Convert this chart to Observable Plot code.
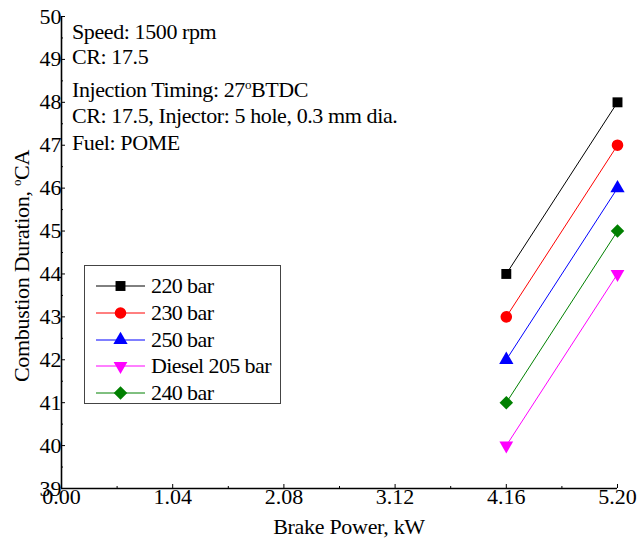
<!DOCTYPE html>
<html>
<head>
<meta charset="utf-8">
<script src="https://cdn.jsdelivr.net/npm/d3@7"></script>
<script src="https://cdn.jsdelivr.net/npm/@observablehq/plot@0.6"></script>
<style>
  body { margin: 0; background: #fff; }
  #wrap { position: relative; width: 638px; height: 539px; font-family: "Liberation Serif", "Times New Roman", serif; color: #000; }
  #wrap svg.plot { position: absolute; left: 0; top: 0; }
  .note { position: absolute; left: 72px; font-size: 22px; line-height: 22px; white-space: nowrap; letter-spacing: -0.4px; }
  sup { font-size: 13px; vertical-align: 0; position: relative; top: -8px; }
  #legend { position: absolute; left: 84px; top: 265px; width: 195px; height: 137px; border: 1px solid #444; background: #fff; }
  .lg { position: absolute; left: 0; height: 22px; font-size: 22px; line-height: 22px; white-space: nowrap; letter-spacing: -0.6px; }
  .lg svg { position: absolute; left: 11px; top: 0; }
  .lg span { position: absolute; left: 66px; top: 0; }
  #ylab { position: absolute; left: 23px; top: 266px; transform: translate(-50%, -50%) rotate(-90deg); font-size: 22px; line-height: 22px; white-space: nowrap; letter-spacing: -0.3px; }
  #xlab { position: absolute; left: 349px; top: 516px; transform: translateX(-50%); font-size: 22px; line-height: 22px; white-space: nowrap; letter-spacing: -0.3px; }
</style>
</head>
<body>
<div id="wrap"></div>
<script>
// ---- data ----
const xValues = [4.16, 5.20];
const seriesNames = ["220 bar", "230 bar", "250 bar", "Diesel 205 bar", "240 bar"];
const s220 = [44, 48];
const s230 = [43, 47];
const s250 = [42, 46];
const sDiesel205 = [40, 44];
const s240 = [41, 45];
const xTicks = [0.00, 1.04, 2.08, 3.12, 4.16, 5.20];
const yTicks = [39, 40, 41, 42, 43, 44, 45, 46, 47, 48, 49, 50];
const notes = ["Speed: 1500 rpm", "CR: 17.5", "Injection Timing: 27<sup>o</sup>BTDC", "CR: 17.5, Injector: 5 hole, 0.3 mm dia.", "Fuel: POME"];
const yTitle = "Combustion Duration, <sup>o</sup>CA";
const xTitle = "Brake Power, kW";

// ---- styles ----
const colors = ["#000000", "#ff0000", "#0000ff", "#ff00ff", "#008000"];
const symbols = ["square", "circle", "triangle", "triangle", "square"];
const rotations = [0, 0, 0, 180, 45];
const radii = [5.6, 5.8, 5.3, 5.1, 5.4];
const noteTops = [21, 46, 79, 105, 132];

const allSeries = [s220, s230, s250, sDiesel205, s240];
const data = [];
allSeries.forEach((vals, i) => vals.forEach((v, j) => data.push({series: seriesNames[i], idx: i, x: xValues[j], y: v})));

const xMinor = xTicks.slice(0, -1).map((t, i) => (t + xTicks[i + 1]) / 2);
const yMinor = yTicks.slice(0, -1).map(t => t + 0.5);

const plot = Plot.plot({
  width: 638,
  height: 539,
  marginLeft: 61,
  marginRight: 21,
  marginTop: 16,
  marginBottom: 51,
  style: {fontFamily: "'Liberation Serif', 'Times New Roman', serif", fontSize: "22px", background: "#fff", overflow: "visible"},
  x: {domain: [0, 5.2], label: null},
  y: {domain: [39, 50], label: null},
  r: {type: "identity"},
  marks: [
    Plot.axisY(yTicks, {tickSize: 0, tickPadding: 0, tickFormat: d => String(d), fontSize: 22, letterSpacing: "-1.5px"}),
    Plot.axisY(yTicks, {tickSize: 4, dx: 4, tickFormat: () => ""}),
    Plot.axisY(yMinor, {tickSize: 2, dx: 2, tickFormat: () => ""}),
    Plot.axisX(xTicks, {tickSize: 0, tickPadding: 0, tickFormat: d => d.toFixed(2), fontSize: 22, letterSpacing: "-1.5px"}),
    Plot.axisX(xTicks, {tickSize: 4, dy: -4, tickFormat: () => ""}),
    Plot.axisX(xMinor, {tickSize: 2, dy: -2, tickFormat: () => ""}),
    Plot.ruleX([0], {strokeWidth: 1.6}),
    Plot.ruleY([39], {strokeWidth: 1.6}),
    Plot.line(data, {x: "x", y: "y", z: "series", stroke: d => colors[d.idx], strokeWidth: 1}),
    Plot.dot(data, {x: "x", y: "y", symbol: d => symbols[d.idx], fill: d => colors[d.idx], stroke: "none", r: d => radii[d.idx], rotate: d => rotations[d.idx]})
  ]
});
plot.classList.add("plot");
const wrap = document.getElementById("wrap");
wrap.appendChild(plot);

// notes
notes.forEach((t, i) => {
  const d = document.createElement("div");
  d.className = "note";
  d.style.top = noteTops[i] + "px";
  d.innerHTML = t;
  wrap.appendChild(d);
});

// legend
const legend = document.createElement("div");
legend.id = "legend";
const symMap = {square: d3.symbolSquare, circle: d3.symbolCircle, triangle: d3.symbolTriangle};
seriesNames.forEach((name, i) => {
  const row = document.createElement("div");
  row.className = "lg";
  row.style.top = (9 + i * 26.8) + "px";
  const path = d3.symbol(symMap[symbols[i]], Math.PI * radii[i] * radii[i])();
  row.innerHTML = `<svg width="50" height="22"><line x1="0" x2="49" y1="11" y2="11" stroke="${colors[i]}" stroke-width="1"/><path d="${path}" fill="${colors[i]}" transform="translate(24.5,11) rotate(${rotations[i]})"/></svg><span>${name}</span>`;
  legend.appendChild(row);
});
wrap.appendChild(legend);

const ylab = document.createElement("div");
ylab.id = "ylab";
ylab.innerHTML = yTitle;
wrap.appendChild(ylab);
const xlab = document.createElement("div");
xlab.id = "xlab";
xlab.textContent = xTitle;
wrap.appendChild(xlab);
</script>
</body>
</html>
